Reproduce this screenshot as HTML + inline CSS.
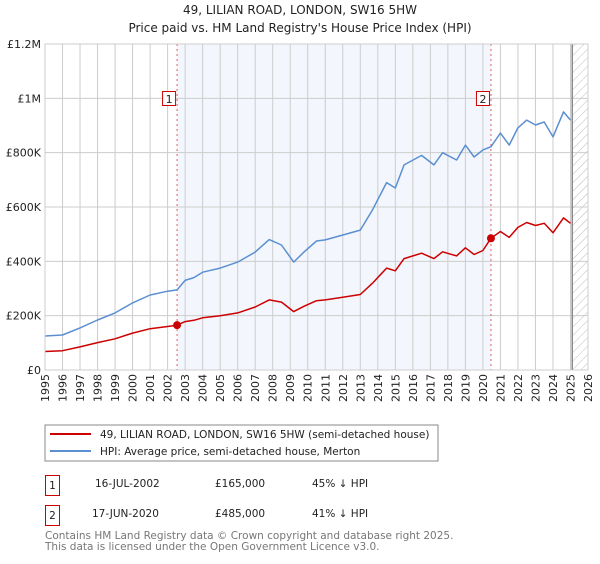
<!DOCTYPE html>
<html><head><meta charset="utf-8"><style>
body{margin:0;background:#fff;width:600px;height:560px;overflow:hidden;font-family:"DejaVu Sans","Liberation Sans",sans-serif}
svg text{font-family:"DejaVu Sans","Liberation Sans",sans-serif}
</style></head><body>
<svg id="chart" width="600" height="560" xmlns="http://www.w3.org/2000/svg">
<defs><pattern id="hatch" width="6" height="6" patternUnits="userSpaceOnUse" patternTransform="rotate(45)"><line x1="0" y1="0" x2="0" y2="6" stroke="#bbb" stroke-width="1"/></pattern></defs>
<text x="300" y="14" font-size="12" text-anchor="middle" fill="#222">49, LILIAN ROAD, LONDON, SW16 5HW</text>
<text x="300" y="32" font-size="12" text-anchor="middle" fill="#222">Price paid vs. HM Land Registry's House Price Index (HPI)</text>
<g id="plot"></g>
<g>
<rect x="45" y="425" width="393" height="36" fill="#fff" stroke="#888"/>
<line x1="50" y1="434" x2="91" y2="434" stroke="#cc0000" stroke-width="2"/>
<text x="100" y="438" font-size="10.5" fill="#222">49, LILIAN ROAD, LONDON, SW16 5HW (semi-detached house)</text>
<line x1="50" y1="451" x2="91" y2="451" stroke="#5b8fd0" stroke-width="2"/>
<text x="100" y="455" font-size="10.5" fill="#222">HPI: Average price, semi-detached house, Merton</text>
</g>
<g font-size="10.5" fill="#222">
<rect x="45.5" y="475.5" width="14" height="20" fill="none" stroke="#cc0000"/><text x="52.5" y="489" text-anchor="middle">1</text>
<text x="95" y="487">16-JUL-2002</text><text x="215" y="487">£165,000</text><text x="312" y="487">45% ↓ HPI</text>
<rect x="45.5" y="505.5" width="14" height="20" fill="none" stroke="#cc0000"/><text x="52.5" y="519" text-anchor="middle">2</text>
<text x="92" y="517">17-JUN-2020</text><text x="215" y="517">£485,000</text><text x="312" y="517">41% ↓ HPI</text>
</g>
<text x="45" y="539" font-size="10.5" fill="#777">Contains HM Land Registry data © Crown copyright and database right 2025.</text>
<text x="45" y="550" font-size="10.5" fill="#777">This data is licensed under the Open Government Licence v3.0.</text>
</svg>
<script>
const hpiYears=[1995,1996,1997,1998,1999,2000,2001,2002,2002.54,2003,2003.5,2004,2005,2006,2007,2007.8,2008.5,2009.2,2009.8,2010.5,2011,2012,2013,2013.7,2014.5,2015,2015.5,2016.5,2017.2,2017.7,2018.5,2019,2019.5,2020,2020.46,2021,2021.5,2022,2022.5,2023,2023.5,2024,2024.6,2025.0];
const hpiValues=[125000,129000,155000,184000,210000,247000,276000,290000,295000,330000,340000,360000,375000,397000,434000,480000,460000,397000,435000,475000,479000,497000,515000,590000,690000,670000,755000,790000,755000,800000,773000,828000,784000,810000,822000,872000,828000,891000,920000,902000,913000,858000,950000,920000];
const priceValues=[68000,71000,85000,101000,115000,136000,152000,160000,165000,178000,183000,192000,200000,210000,232000,258000,250000,215000,235000,255000,258000,268000,278000,320000,375000,365000,410000,430000,410000,435000,420000,450000,425000,440000,485000,510000,488000,525000,543000,532000,540000,505000,560000,540000];
const saleYears=[2002.54,2020.46];
const saleValues=[165000,485000];
const saleLabels=["1","2"];
const yTicks=[0,200000,400000,600000,800000,1000000,1200000];
const yTickLabels=["£0","£200K","£400K","£600K","£800K","£1M","£1.2M"];
const xTicks=[];for(let y=1995;y<=2026;y++)xTicks.push(y);
const X0=45,X1=588,Y0=370,Y1=44;
const xs=v=>X0+(v-1995)/(2026-1995)*(X1-X0);
const ys=v=>Y0-v/1200000*(Y0-Y1);
const NS="http://www.w3.org/2000/svg";
const g=document.getElementById('plot');
function mk(t,a){const e=document.createElementNS(NS,t);for(const k in a)e.setAttribute(k,a[k]);g.appendChild(e);return e;}
let e=mk('rect',{x:xs(saleYears[0]),y:Y1,width:xs(saleYears[1])-xs(saleYears[0]),height:Y0-Y1,fill:'#eef3fc',opacity:0.7});


e=mk('rect',{x:xs(2025.1),y:Y1,width:X1-xs(2025.1),height:Y0-Y1,fill:'url(#hatch)'});


xTicks.forEach(t=>{
 const l=mk('line',{x1:xs(t),x2:xs(t),y1:Y1,y2:Y0,stroke:'#ccc','stroke-width':1});
 
 
 const x=xs(t)+4,y=Y0+4;
 const tx=mk('text',{x:x,y:y,'font-size':11,'text-anchor':'end',fill:'#222',transform:'rotate(-90 '+x+' '+y+')'});
 tx.textContent=t;
 
 
});
yTicks.forEach((t,i)=>{
 const l=mk('line',{x1:X0,x2:X1,y1:ys(t),y2:ys(t),stroke:'#ccc','stroke-width':1});
 
 
 const tx=mk('text',{x:X0-4,y:ys(t)+4,'font-size':11,'text-anchor':'end',fill:'#222'});
 tx.textContent=yTickLabels[i];
 
 
});
e=mk('line',{x1:xs(2025.1),x2:xs(2025.1),y1:Y1,y2:Y0,stroke:'#888','stroke-width':1.5});


saleYears.forEach((s,i)=>{
 const l=mk('line',{x1:xs(s),x2:xs(s),y1:Y1,y2:Y0,stroke:'#e06060','stroke-width':1,'stroke-dasharray':'2,3'});
 
 
});
const pts=(vals)=>hpiYears.map((y,i)=>xs(y).toFixed(1)+','+ys(vals[i]).toFixed(1)).join(' ');
e=mk('polyline',{points:pts(hpiValues),fill:'none',stroke:'#5b8fd0','stroke-width':1.5,'stroke-linejoin':'round'});


e=mk('polyline',{points:pts(priceValues),fill:'none',stroke:'#cc0000','stroke-width':1.5,'stroke-linejoin':'round'});


saleYears.forEach((s,i)=>{
 const c=mk('circle',{cx:xs(s),cy:ys(saleValues[i]),r:4,fill:'#cc0000'});
 
 
 const r=mk('rect',{x:xs(s)-14.5,y:91.5,width:13,height:14,fill:'#fff',stroke:'#cc0000'});
 
 
 const t=mk('text',{x:xs(s)-8,y:103,'font-size':11,'text-anchor':'middle',fill:'#222'});
 t.textContent=saleLabels[i];
 
 
});
e=mk('rect',{x:X0,y:Y1,width:X1-X0,height:Y0-Y1,fill:'none',stroke:'#ccc'});


</script>
</body></html>
